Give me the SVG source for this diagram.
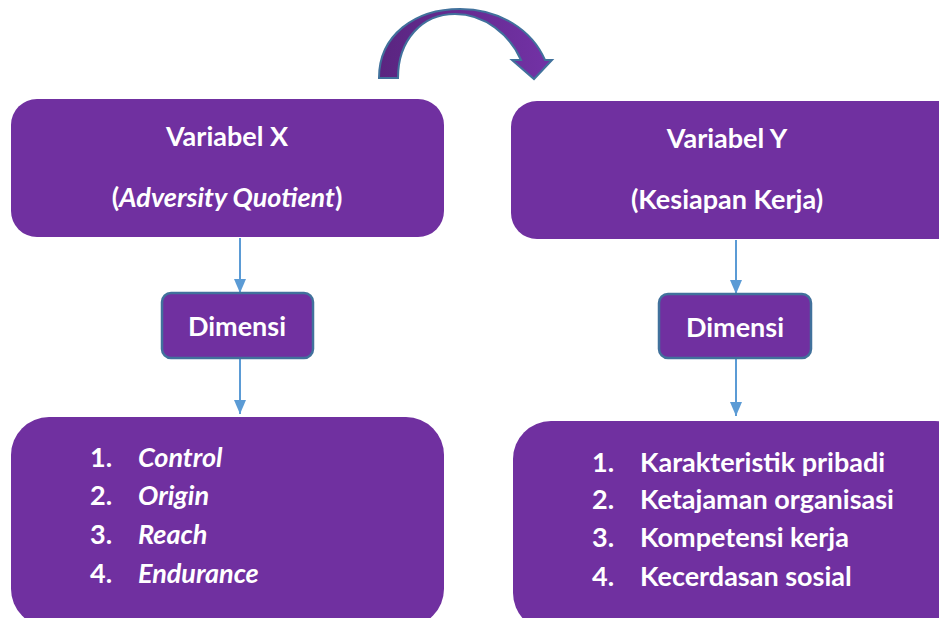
<svg xmlns="http://www.w3.org/2000/svg" width="939" height="618" viewBox="0 0 939 618">
<style>
.box{fill:#7030A0;}
.dim{fill:#7030A0;stroke:#41719C;stroke-width:2.5;}
.t{font-family:Lato,"Open Sans",sans-serif;font-weight:bold;fill:#ffffff;font-size:27px;}
.c{text-anchor:middle;}
.i{font-style:italic;}
.con{stroke:#5B9BD5;stroke-width:2;fill:none;}
</style>
<defs>
<marker id="ah" viewBox="0 0 14 12" refX="14" refY="6" markerWidth="14" markerHeight="12" markerUnits="userSpaceOnUse" orient="auto">
<path d="M0,0 L14,6 L0,12 Z" fill="#5B9BD5"/>
</marker>
<linearGradient id="g" x1="0" y1="0" x2="1" y2="0">
<stop offset="0" stop-color="#5A2580"/>
<stop offset="1" stop-color="#7332A6"/>
</linearGradient>
</defs>
<rect width="939" height="618" fill="#ffffff"/>
<g id="curved-arrow">
<path d="M379,78 C379,35 415,9 460,9 C500,9 532,30 545,60 L552,60 L534,79 L512,60 L521,60 C510,35 485,14 455,14 C422,14 398,40 398,78 Z" fill="url(#g)" stroke="#41719C" stroke-width="2"/>
</g>
<g id="connectors">
<line class="con" x1="240" y1="238" x2="240" y2="293" marker-end="url(#ah)"/>
<line class="con" x1="240" y1="359" x2="240" y2="414" marker-end="url(#ah)"/>
<line class="con" x1="736" y1="240" x2="736" y2="294" marker-end="url(#ah)"/>
<line class="con" x1="736" y1="359" x2="736" y2="416" marker-end="url(#ah)"/>
</g>
<g id="var-x">
<rect class="box" x="11" y="99" width="433" height="138" rx="26"/>
<text class="t c" x="227" y="146">Variabel X</text>
<text class="t c" x="227" y="207">(<tspan class="i">Adversity Quotient</tspan>)</text>
</g>
<g id="var-y">
<rect class="box" x="511" y="101" width="455" height="138" rx="26"/>
<text class="t c" x="727" y="148">Variabel Y</text>
<text class="t c" x="727" y="209">(Kesiapan Kerja)</text>
</g>
<g id="dim-x">
<rect class="dim" x="162" y="293" width="151" height="65" rx="9"/>
<text class="t c" x="237" y="336">Dimensi</text>
</g>
<g id="dim-y">
<rect class="dim" x="659" y="294" width="152" height="64" rx="9"/>
<text class="t c" x="735" y="337">Dimensi</text>
</g>
<g id="list-x">
<rect class="box" x="11" y="417" width="433" height="210" rx="38"/>
<text class="t" x="90" y="467">1.</text>
<text class="t i" x="138" y="467">Control</text>
<text class="t" x="90" y="505">2.</text>
<text class="t i" x="138" y="505">Origin</text>
<text class="t" x="90" y="544">3.</text>
<text class="t i" x="138" y="544">Reach</text>
<text class="t" x="90" y="583">4.</text>
<text class="t i" x="138" y="583">Endurance</text>
</g>
<g id="list-y">
<rect class="box" x="513" y="421" width="460" height="210" rx="38"/>
<text class="t" x="592" y="472">1.</text>
<text class="t" x="640" y="472">Karakteristik pribadi</text>
<text class="t" x="592" y="509">2.</text>
<text class="t" x="640" y="509">Ketajaman organisasi</text>
<text class="t" x="592" y="547">3.</text>
<text class="t" x="640" y="547">Kompetensi kerja</text>
<text class="t" x="592" y="586">4.</text>
<text class="t" x="640" y="586">Kecerdasan sosial</text>
</g>
</svg>
